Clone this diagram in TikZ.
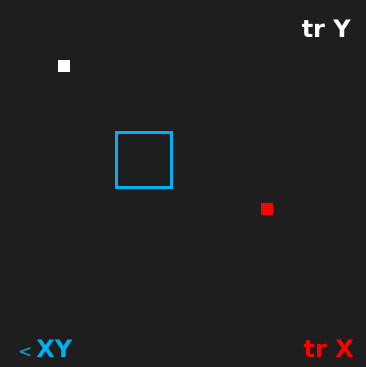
\documentclass[tikz,border=0pt]{standalone}
\usepackage{fontspec}
\setmainfont{DejaVu Sans}
\usepackage{xcolor}
\usetikzlibrary{positioning}
\definecolor{bgdark}{HTML}{1E1E1E}
\definecolor{skyblue}{HTML}{00B0F0}
\definecolor{hotred}{HTML}{FF0000}

\begin{document}
\begin{tikzpicture}[x=1pt, y=-1pt,
  lbl/.style={inner sep=0pt, font=\fontsize{24}{24}\selectfont\bfseries},
  dot/.style={inner sep=0pt, minimum size=12pt}]
% canvas
\useasboundingbox (0,0) rectangle (366,367);
\fill[bgdark] (0,0) rectangle (366,367);

% the two markers
\node[dot, fill=white] (wdot) at (64,66) {};
\node[dot, fill=hotred] (rdot) at (267,209) {};

% selection box
\node[draw=skyblue, line width=3pt, minimum size=55pt, inner sep=0pt] (box) at (144,159.5) {};

% corner labels
\node[lbl, white, anchor=base east] (trY) at (351,37) {tr Y};
\node[lbl, hotred, anchor=base east] (trX) at (354,357) {tr X};
\node[lbl, skyblue, anchor=base west] (ltXY) at (18,357)
  {{\fontsize{17}{17}\selectfont\mdseries<}\hspace{4pt}XY};
\end{tikzpicture}
\end{document}
